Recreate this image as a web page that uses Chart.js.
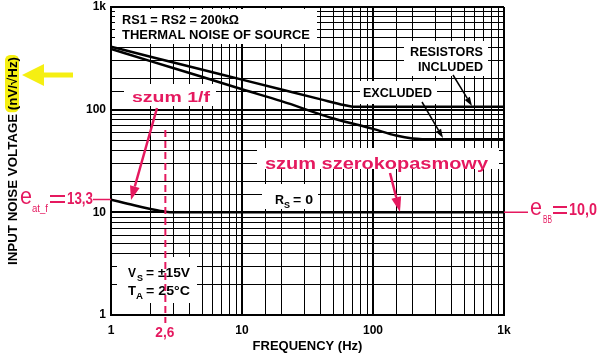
<!DOCTYPE html>
<html>
<head>
<meta charset="utf-8">
<script src="https://cdn.jsdelivr.net/npm/chart.js@4.4.1/dist/chart.umd.min.js"></script>
<style>
    html, body { margin: 0; padding: 0; background: #fff; }
    #wrap { width: 600px; height: 359px; }
</style>
</head>
<body>
<div id="wrap"><canvas id="noise-chart" width="600" height="359"></canvas></div>
<script>
// Datos (densidad de ruido de entrada vs frecuencia)
const freqIncluded  = [1, 2, 5, 10, 20, 40, 60, 70, 100, 200, 500, 1000];
const noiseIncluded = [410, 328, 245, 196, 157, 126, 111, 107, 107, 107, 107, 107];

const freqExcluded  = [1, 2, 5, 10, 20, 50, 100, 150, 200, 300, 500, 1000];
const noiseExcluded = [390, 297, 208, 158, 121, 82, 65, 56, 52.5, 51.5, 51.5, 51.5];

const freqRs0  = [1, 1.5, 2, 2.6, 3, 10, 100, 1000];
const noiseRs0 = [13.3, 11.7, 10.8, 10.15, 10, 10, 10, 10];

const tickLabels = { 1: "1", 10: "10", 100: "100", 1000: "1k" };
const cornerFreq = 2.6;     // e_at_f
const flickerNoise = 13.3;
const broadbandNoise = 10.0;

const PINK = "#e5195f";
const YELLOW = "#f5ef12";
const FONT = "'Liberation Sans', Arial, sans-serif";

(function () {
    "use strict";

    function toPoints(xs, ys) {
        return xs.map((x, i) => ({ x: x, y: ys[i] }));
    }

    function isDecade(v) {
        const l = Math.log10(v);
        return Math.abs(l - Math.round(l)) < 1e-6;
    }

    function gridWidth(ctx) {
        return ctx.tick && isDecade(ctx.tick.value) ? 2 : 1;
    }

    // texto escalado horizontalmente para ocupar un ancho dado
    function fitText(ctx, text, x, y, width, font, color) {
        ctx.save();
        ctx.font = font;
        ctx.fillStyle = color;
        ctx.textBaseline = "alphabetic";
        ctx.textAlign = "left";
        const w = ctx.measureText(text).width;
        ctx.translate(x, y);
        ctx.scale(width / w, 1);
        ctx.fillText(text, 0, 0);
        ctx.restore();
    }

    // signo "=" ancho y fino
    function equals(ctx, x1, x2, yc, color) {
        ctx.save();
        ctx.strokeStyle = color;
        ctx.lineWidth = 2.2;
        ctx.beginPath();
        ctx.moveTo(x1, yc - 3);
        ctx.lineTo(x2, yc - 3);
        ctx.moveTo(x1, yc + 3);
        ctx.lineTo(x2, yc + 3);
        ctx.stroke();
        ctx.restore();
    }

    function arrow(ctx, x1, y1, x2, y2, color, lw, headLen, headW) {
        const a = Math.atan2(y2 - y1, x2 - x1);
        const bx = x2 - headLen * Math.cos(a);
        const by = y2 - headLen * Math.sin(a);
        ctx.save();
        ctx.strokeStyle = color;
        ctx.lineWidth = lw;
        ctx.beginPath();
        ctx.moveTo(x1, y1);
        ctx.lineTo(bx, by);
        ctx.stroke();
        ctx.fillStyle = color;
        ctx.beginPath();
        ctx.moveTo(x2, y2);
        ctx.lineTo(bx + headW / 2 * Math.sin(a), by - headW / 2 * Math.cos(a));
        ctx.lineTo(bx - headW / 2 * Math.sin(a), by + headW / 2 * Math.cos(a));
        ctx.closePath();
        ctx.fill();
        ctx.restore();
    }

    // recuadros blancos detrás de los textos (tapan la cuadrícula)
    const whiteBoxes = [
        [115, 9, 317, 44],
        [404, 41, 488, 76],
        [360, 81, 437, 104],
        [124, 84, 216, 106],
        [257, 148, 499, 169],
        [262, 184, 318, 209],
        [117, 257, 197, 303]
    ];

    const overlay = {
        id: "overlay",
        beforeDatasetsDraw(chart) {
            const ctx = chart.ctx;
            ctx.save();
            ctx.fillStyle = "#fff";
            whiteBoxes.forEach(b => ctx.fillRect(b[0], b[1], b[2] - b[0], b[3] - b[1]));
            ctx.restore();
        },
        afterDraw(chart) {
            const ctx = chart.ctx;
            const xs = chart.scales.x;
            const ys = chart.scales.y;
            const area = chart.chartArea;
            const bold12 = "bold 12px " + FONT;
            const bold13 = "bold 13px " + FONT;

            // títulos de ejes
            ctx.save();
            ctx.font = bold13;
            ctx.fillStyle = "#000";
            ctx.textAlign = "center";
            ctx.textBaseline = "middle";
            ctx.fillText("FREQUENCY (Hz)", (area.left + area.right) / 2, 346);

            const pre = "INPUT NOISE VOLTAGE ";
            const unit = "(nV/\u221AHz)";
            const wPre = ctx.measureText(pre).width;
            const wUnit = ctx.measureText(unit).width;
            const total = wPre + wUnit;
            ctx.translate(12, 161);
            ctx.rotate(-Math.PI / 2);
            ctx.scale(208 / total, 1);
            ctx.fillStyle = YELLOW;
            ctx.beginPath();
            ctx.roundRect(-total / 2 + wPre - 2, -7, wUnit + 4, 14, 5);
            ctx.fill();
            ctx.fillStyle = "#000";
            ctx.textAlign = "left";
            ctx.fillText(pre + unit, -total / 2, 1);
            ctx.restore();

            // flecha amarilla
            ctx.save();
            ctx.fillStyle = YELLOW;
            ctx.beginPath();
            ctx.moveTo(22, 75);
            ctx.lineTo(44, 64);
            ctx.lineTo(44, 72.5);
            ctx.lineTo(73, 72.5);
            ctx.lineTo(73, 77.5);
            ctx.lineTo(44, 77.5);
            ctx.lineTo(44, 86);
            ctx.closePath();
            ctx.fill();
            ctx.restore();

            // textos negros
            fitText(ctx, "RS1 = RS2 = 200k\u03A9", 122, 24, 117, bold13, "#000");
            fitText(ctx, "THERMAL NOISE OF SOURCE", 122, 39, 188, bold13, "#000");
            fitText(ctx, "RESISTORS", 410, 56, 73, bold13, "#000");
            fitText(ctx, "INCLUDED", 418, 71, 65, bold13, "#000");
            fitText(ctx, "EXCLUDED", 363, 97, 69, bold13, "#000");

            fitText(ctx, "R", 275, 204, 9, bold12, "#000");
            fitText(ctx, "S", 284, 208, 6, "bold 9px " + FONT, "#000");
            fitText(ctx, "= 0", 293, 204, 20, bold12, "#000");

            fitText(ctx, "V", 128, 277, 8, bold12, "#000");
            fitText(ctx, "S", 137, 281, 6, "bold 9px " + FONT, "#000");
            fitText(ctx, "= \u00B115V", 146, 277, 44, bold12, "#000");
            fitText(ctx, "T", 128, 295, 8, bold12, "#000");
            fitText(ctx, "A", 136, 299, 7, "bold 9px " + FONT, "#000");
            fitText(ctx, "= 25\u00B0C", 146, 295, 44, bold12, "#000");

            arrow(ctx, 453, 75, 472, 106, "#000", 1.5, 9, 6);
            arrow(ctx, 422, 102, 443, 138, "#000", 1.5, 9, 6);

            // anotaciones rosas
            const xc = xs.getPixelForValue(cornerFreq);
            ctx.save();
            ctx.strokeStyle = PINK;
            ctx.lineWidth = 2;
            ctx.setLineDash([7, 4]);
            ctx.beginPath();
            ctx.moveTo(xc, 130);
            ctx.lineTo(xc, 323);
            ctx.stroke();
            ctx.setLineDash([]);

            const yf = ys.getPixelForValue(flickerNoise);
            const yb = ys.getPixelForValue(broadbandNoise);
            ctx.lineWidth = 1.5;
            ctx.beginPath();
            ctx.moveTo(93, yf);
            ctx.lineTo(area.left, yf);
            ctx.moveTo(area.right, yb);
            ctx.lineTo(528, yb);
            ctx.stroke();
            ctx.restore();

            fitText(ctx, "szum 1/f", 132, 102, 78, "bold 15px " + FONT, PINK);
            fitText(ctx, "szum szerokopasmowy", 265, 169, 223, "bold 16px " + FONT, PINK);
            arrow(ctx, 157, 108, 131, 200, PINK, 2.5, 14, 10);
            arrow(ctx, 390, 173, 400, 212, PINK, 2.5, 15, 10);

            fitText(ctx, "e", 20, 204, 12, "23px " + FONT, PINK);
            fitText(ctx, "at_f", 32, 212, 16, "10px " + FONT, PINK);
            equals(ctx, 50, 65, 199, PINK);
            fitText(ctx, String(flickerNoise).replace(".", ","), 67, 204, 26, "bold 17px " + FONT, PINK);

            fitText(ctx, "e", 530, 215, 12, "23px " + FONT, PINK);
            fitText(ctx, "BB", 543, 223, 9, "10px " + FONT, PINK);
            equals(ctx, 553, 567, 210, PINK);
            fitText(ctx, broadbandNoise.toFixed(1).replace(".", ","), 569, 215, 28, "bold 17px " + FONT, PINK);

            fitText(ctx, String(cornerFreq).replace(".", ","), xc - 10, 337, 19, "bold 15px " + FONT, PINK);
        }
    };

    const lineStyle = {
        borderColor: "#000",
        borderWidth: 2.5,
        pointRadius: 0,
        fill: false,
        cubicInterpolationMode: "monotone"
    };

    const axisTicks = {
        color: "#000",
        font: { family: FONT, size: 12, weight: "bold" },
        autoSkip: false,
        maxRotation: 0,
        callback: function (v) { return tickLabels[v] || ""; }
    };

    new Chart(document.getElementById("noise-chart"), {
        type: "line",
        data: {
            datasets: [
                Object.assign({ label: "Resistors included", data: toPoints(freqIncluded, noiseIncluded) }, lineStyle),
                Object.assign({ label: "Resistors excluded", data: toPoints(freqExcluded, noiseExcluded) }, lineStyle),
                Object.assign({ label: "RS = 0", data: toPoints(freqRs0, noiseRs0) }, lineStyle)
            ]
        },
        options: {
            responsive: false,
            animation: false,
            devicePixelRatio: 1,
            layout: { padding: { left: 0, right: 96, top: 7, bottom: 0 } },
            plugins: { legend: { display: false }, tooltip: { enabled: false } },
            scales: {
                x: {
                    type: "logarithmic",
                    min: 1,
                    max: 1000,
                    afterFit: s => { s.height = 44; s.paddingLeft = 0; s.paddingRight = 0; },
                    grid: { color: "#000", lineWidth: gridWidth, drawTicks: false },
                    border: { color: "#000", width: 2 },
                    ticks: Object.assign({ padding: 8 }, axisTicks)
                },
                y: {
                    type: "logarithmic",
                    min: 1,
                    max: 1000,
                    afterFit: s => { s.width = 111; s.paddingTop = 0; s.paddingBottom = 0; },
                    grid: { color: "#000", lineWidth: gridWidth, drawTicks: false },
                    border: { color: "#000", width: 2 },
                    ticks: Object.assign({ padding: 5 }, axisTicks)
                }
            }
        },
        plugins: [overlay]
    });
})();
</script>
</body>
</html>
